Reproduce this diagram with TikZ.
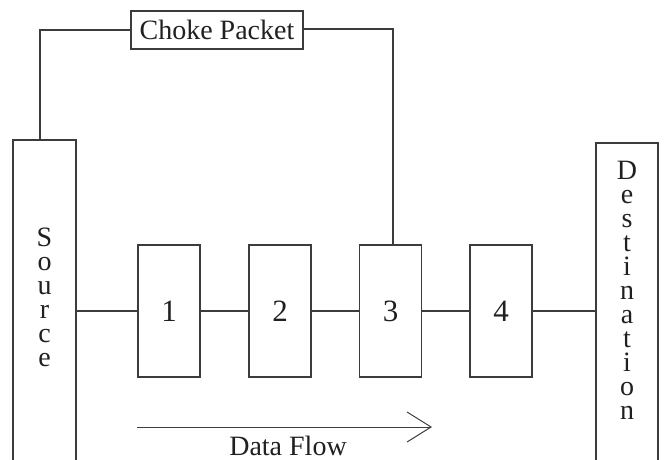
\documentclass[tikz,border=0pt]{standalone}
\usepackage{fontspec}
\setmainfont{Liberation Serif}
\usetikzlibrary{arrows.meta}
\definecolor{color_line}{HTML}{3C3C3C}
\definecolor{color_text}{HTML}{231F20}
\def\hopwidth{62}
\def\hopheight{132}
\def\hopy{148}
\def\barwidth{63}
\def\linkwidth{1.3pt}
\tikzset{
    hop/.style={draw=color_line, line width=\linkwidth, minimum width=\hopwidth, minimum height=\hopheight, inner sep=0pt, font=\fontsize{31}{34}\selectfont},
    endbar/.style={draw=color_line, line width=\linkwidth, minimum width=\barwidth, minimum height=340, inner sep=0pt},
    vtext/.style={align=center, font=\fontsize{28}{24}\selectfont},
    link/.style={color_line, line width=\linkwidth}
}

\begin{document}
\begin{tikzpicture}[x=1pt, y=1pt, font=\fontsize{28}{32}\selectfont, text=color_text]
        \useasboundingbox (0,0) rectangle (664,459);
        \clip (0,0) rectangle (664,459);
        % end points of the flow
        \node[endbar] (src) at (44.5,149) {};
        \node[vtext] (srctxt) at (44.5,162) {S\\o\\u\\r\\c\\e};
        \node[endbar, minimum width=62] (dst) at (627,146) {};
        \node[vtext] (dsttxt) at (627,168.5) {D\\e\\s\\t\\i\\n\\a\\t\\i\\o\\n};
        % the routers
        \foreach \i/\x in {1/169,2/280,3/390.5,4/501}
            \node[hop] (b\i) at (\x,\hopy) {\i};
        \draw[link] (b1.west) -- (b1.west -| src.east);
        \foreach \i/\j in {1/2,2/3,3/4}
            \draw[link] (b\i) -- (b\j);
        \draw[link] (b4.east) -- (b4.east -| dst.west);
        % choke packet back to the source
        \node[draw=color_line, line width=\linkwidth, minimum width=172, minimum height=38, inner sep=0pt] (choke) at (217,429) {Choke Packet};
        \draw[link] (choke.west) -| ([xshift=-4.5pt]src.north);
        \draw[link] ([yshift=1pt]choke.east) -| ([xshift=2.5pt]b3.north);
        % direction of the data
        \coordinate (flowL) at (137,32);
        \coordinate (flowR) at (432,32);
        \draw[link, line width=1pt, -{Straight Barb[length=24pt, width=30pt, line width=1pt]}] (flowL) -- (flowR);
        \node[inner sep=1pt] (flowtxt) at (288,13) {Data Flow};
    \end{tikzpicture}
\end{document}
